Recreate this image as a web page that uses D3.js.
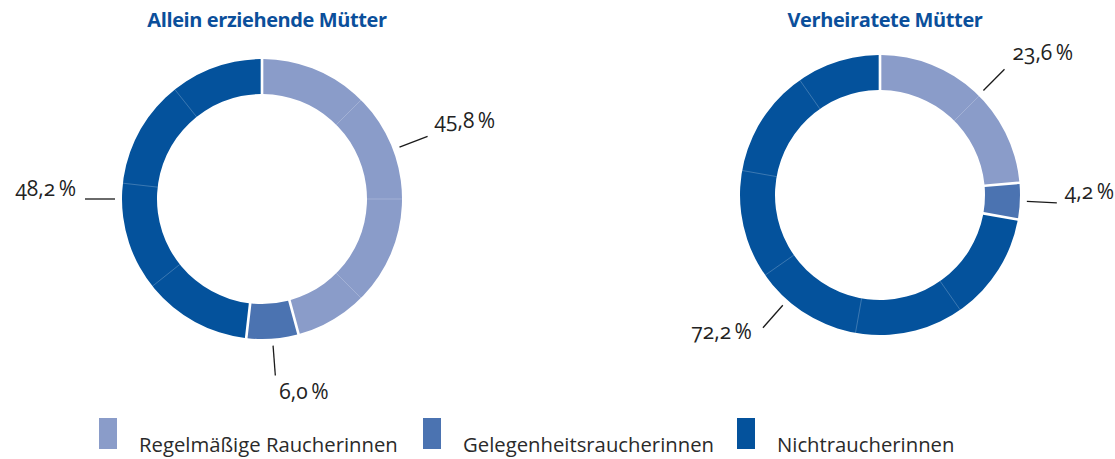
<!DOCTYPE html>
<html lang="de">
<head>
<meta charset="utf-8">
<script src="https://cdn.jsdelivr.net/npm/d3@7"></script>
<style>
  html, body { margin: 0; padding: 0; background: #fff; }
  svg { display: block; }
  text { font-family: "Open Sans", "Noto Sans", sans-serif; font-variant-numeric: oldstyle-nums; }
</style>
</head>
<body>
<svg id="chart" width="1115" height="459"></svg>
<script>
// Raucherstatus von Müttern (Anteile in Prozent)
const categories = ["Regelmäßige Raucherinnen", "Gelegenheitsraucherinnen", "Nichtraucherinnen"];
const groups = ["Allein erziehende Mütter", "Verheiratete Mütter"];
const valuesAllein = [45.8, 6.0, 48.2];
const valuesVerheiratet = [23.6, 4.2, 72.2];
const colors = ["#8a9cc9", "#4b73b1", "#04529c"];

const svg = d3.select("#chart");

const color = d3.scaleOrdinal().domain(categories).range(colors);
const fmt = v => d3.format(".1f")(v).replace(".", ",") + "\u2009%";

// layout of the two donuts
const donuts = [
  { title: groups[0], values: valuesAllein, cx: 262, cy: 199, titleX: 267,
    // label placement: angle (deg, clockwise from top), text offset from leader end, anchor
    labels: [
      { angle: 69.3, dx: 7, dy: -8, anchor: "start" },
      { angle: null, dx: 4, dy: 24, anchor: "start" },
      { angle: 270, dx: -9, dy: -3, anchor: "end" }
    ] },
  { title: groups[1], values: valuesVerheiratet, cx: 880, cy: 195, titleX: 885,
    labels: [
      { angle: 44.7, dx: 8, dy: -9, anchor: "start" },
      { angle: null, dx: 8, dy: -4, anchor: "start" },
      { angle: 221.4, dx: -11, dy: 11, anchor: "end" }
    ] }
];

const rInner = 105, rOuter = 140;
const leadIn = 147, leadOut = 177;

const pie = d3.pie().sort(null).value(d => d).startAngle(0).endAngle(2 * Math.PI);
const arc = d3.arc().innerRadius(rInner).outerRadius(rOuter)
  .padAngle(0.019).padRadius(rOuter);

const polar = (r, a) => [r * Math.sin(a), -r * Math.cos(a)];

donuts.forEach(dn => {
  const g = svg.append("g").attr("transform", `translate(${dn.cx},${dn.cy})`);
  const arcs = pie(dn.values);

  g.selectAll("path.slice")
    .data(arcs)
    .join("path")
    .attr("class", "slice")
    .attr("d", arc)
    .attr("fill", (d, i) => color(categories[i]));

  // faint sub-division lines every 45° inside each slice
  const step = Math.PI / 4;
  const ticks = [];
  arcs.forEach(d => {
    for (let a = d.startAngle + step; a < d.endAngle - 0.05; a += step) ticks.push(a);
  });
  g.selectAll("line.sub")
    .data(ticks)
    .join("line")
    .attr("class", "sub")
    .attr("x1", a => polar(rInner, a)[0]).attr("y1", a => polar(rInner, a)[1])
    .attr("x2", a => polar(rOuter, a)[0]).attr("y2", a => polar(rOuter, a)[1])
    .attr("stroke", "#ffffff").attr("stroke-opacity", 0.28).attr("stroke-width", 0.8);

  // value labels with leader lines
  arcs.forEach((d, i) => {
    const L = dn.labels[i];
    const a = (L.angle == null ? (d.startAngle + d.endAngle) / 2 : L.angle * Math.PI / 180);
    const p1 = polar(leadIn, a), p2 = polar(leadOut, a);
    g.append("line")
      .attr("x1", p1[0]).attr("y1", p1[1])
      .attr("x2", p2[0]).attr("y2", p2[1])
      .attr("stroke", "#1a1a1a").attr("stroke-width", 1.3);
    g.append("text")
      .attr("x", p2[0] + L.dx).attr("y", p2[1] + L.dy)
      .attr("text-anchor", L.anchor)
      .attr("font-size", 21)
      .attr("fill", "#222")
      .text(fmt(d.data));
  });

  svg.append("text")
    .attr("x", dn.titleX).attr("y", 27)
    .attr("text-anchor", "middle")
    .attr("font-size", 20)
    .attr("font-weight", 700)
    .attr("fill", "#0b4f9b")
    .style("letter-spacing", "-0.4px")
    .text(dn.title);
});

// legend
const legendX = [99, 423, 737];
const legend = svg.append("g");
const items = legend.selectAll("g")
  .data(categories)
  .join("g")
  .attr("transform", (d, i) => `translate(${legendX[i]},418)`);
items.append("rect")
  .attr("width", 18).attr("height", 31)
  .attr("fill", d => color(d));
items.append("text")
  .attr("x", 40).attr("y", 34)
  .attr("font-size", 20.3)
  .attr("fill", "#2a2a2a")
  .text(d => d);
</script>
</body>
</html>
